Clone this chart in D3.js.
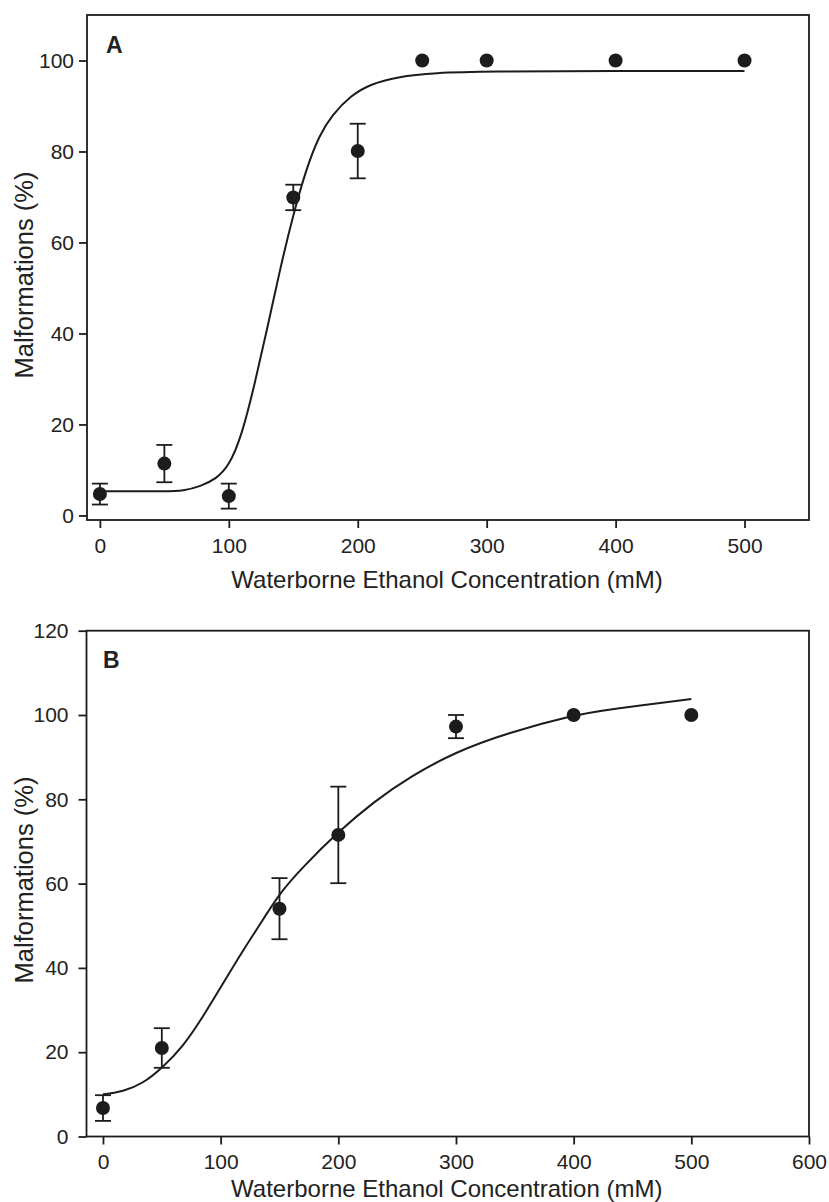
<!DOCTYPE html>
<html>
<head>
<meta charset="utf-8">
<script src="https://cdn.jsdelivr.net/npm/d3@7"></script>
<style>
  html, body { margin: 0; padding: 0; background: #fff; }
  svg { display: block; }
  text { font-family: "Liberation Sans", Arial, Helvetica, sans-serif; fill: #222; }
</style>
</head>
<body>
<svg id="chart" width="829" height="1202"></svg>
<script>
// Panel A: mean malformation rate (%) with SE at each ethanol concentration
const concA = [0, 50, 100, 150, 200, 250, 300, 400, 500];
const meanA = [4.7, 11.4, 4.25, 69.9, 80.1, 100, 100, 100, 100];
const seA   = [2.3, 4.1, 2.75, 2.8, 6.0, 0, 0, 0, 0];

// Panel A: fitted dose-response curve
const fitConcA = [0, 25, 50, 65, 78, 90, 100, 110, 120, 130, 140, 150, 160, 170, 180, 195, 210, 230, 260, 300, 400, 500];
const fitPctA  = [5.3, 5.3, 5.3, 5.4, 6.4, 8.0, 10.8, 17.5, 28.8, 41.3, 54.5, 66.2, 76.1, 83.5, 88.0, 92.4, 94.8, 96.4, 97.3, 97.6, 97.7, 97.7];

// Panel B: mean malformation rate (%) with SE
const concB = [0, 50, 150, 200, 300, 400, 500];
const meanB = [6.75, 21.0, 54.05, 71.55, 97.25, 100, 100];
const seB   = [3.05, 4.7, 7.25, 11.45, 2.75, 0, 0];

// Panel B: fitted dose-response curve
const fitConcB = [0, 17, 34, 50, 68, 85, 102, 119, 136, 150, 170, 200, 230, 261, 300, 343, 400, 431, 500];
const fitPctB  = [10.0, 10.6, 12.6, 16.2, 21.3, 28.4, 36.3, 44.2, 51.4, 57.7, 64.0, 72.3, 79.4, 85.4, 91.3, 95.7, 100.0, 101.4, 103.8];

// Tick values
const xTicksA = [0, 100, 200, 300, 400, 500];
const yTicksA = [0, 20, 40, 60, 80, 100];
const xTicksB = [0, 100, 200, 300, 400, 500, 600];
const yTicksB = [0, 20, 40, 60, 80, 100, 120];

const panelLabels = ["A", "B"];
const xTitle = "Waterborne Ethanol Concentration (mM)";
const yTitle = "Malformations (%)";

const INK = "#1c1c1c";
const svg = d3.select("#chart");

function drawPanel(cfg) {
  const { left, right, top, bottom } = cfg.box;
  const x = d3.scaleLinear().domain(cfg.xDomain).range([left, right]);
  const y = d3.scaleLinear().domain(cfg.yDomain).range([bottom, top]);
  const g = svg.append("g");

  // axes
  const yAxis = d3.axisLeft(y).tickValues(cfg.yTicks).tickSize(8).tickSizeOuter(0)
    .tickPadding(cfg.yPad).tickFormat(d3.format("d"));
  const gy = g.append("g").attr("transform", `translate(${left},0)`).call(yAxis);
  const xAxis = d3.axisBottom(x).tickValues(cfg.xTicks).tickSize(8).tickSizeOuter(0)
    .tickPadding(10).tickFormat(d3.format("d"));
  const gx = g.append("g").attr("transform", `translate(0,${bottom})`).call(xAxis);
  [gx, gy].forEach(a => {
    a.select(".domain").remove();
    a.selectAll(".tick line").attr("stroke", INK).attr("stroke-width", 1.8);
    a.selectAll(".tick text").style("font-size", "21px").attr("fill", "#222");
  });

  // frame
  g.append("rect")
    .attr("x", left).attr("y", top)
    .attr("width", right - left).attr("height", bottom - top)
    .attr("fill", "none").attr("stroke", INK).attr("stroke-width", 1.8);

  // fitted curve (B-spline smoothing through the sampled fit values)
  const line = d3.line().x(d => x(d[0])).y(d => y(d[1])).curve(d3.curveBasis);
  g.append("path")
    .datum(d3.zip(cfg.fitX, cfg.fitY))
    .attr("d", line)
    .attr("fill", "none").attr("stroke", INK).attr("stroke-width", 2);

  // error bars
  const pts = cfg.cx.map((c, i) => ({ c, m: cfg.mean[i], e: cfg.se[i] })).filter(d => d.e > 0);
  const cap = 8;
  const eb = g.append("g").attr("stroke", INK).attr("stroke-width", 1.8);
  pts.forEach(d => {
    const px = x(d.c), y1 = y(d.m + d.e), y0 = y(d.m - d.e);
    eb.append("line").attr("x1", px).attr("x2", px).attr("y1", y1).attr("y2", y0);
    eb.append("line").attr("x1", px - cap).attr("x2", px + cap).attr("y1", y1).attr("y2", y1);
    eb.append("line").attr("x1", px - cap).attr("x2", px + cap).attr("y1", y0).attr("y2", y0);
  });

  // points
  g.append("g").selectAll("circle")
    .data(cfg.cx.map((c, i) => [c, cfg.mean[i]]))
    .join("circle")
    .attr("cx", d => x(d[0])).attr("cy", d => y(d[1]))
    .attr("r", 7).attr("fill", INK);

  // panel letter
  g.append("text")
    .attr("x", cfg.labelPos[0]).attr("y", cfg.labelPos[1])
    .style("font-size", "23px").style("font-weight", "bold")
    .attr("fill", "#111")
    .text(cfg.label);

  // axis titles
  g.append("text")
    .attr("x", (left + right) / 2 - 1).attr("y", cfg.xTitleY)
    .attr("text-anchor", "middle").style("font-size", "24px")
    .text(xTitle);
  g.append("text")
    .attr("transform", `translate(33,${cfg.yTitleC}) rotate(-90)`)
    .attr("text-anchor", "middle").style("font-size", "25.5px")
    .text(yTitle);
}

drawPanel({
  box: { left: 87, right: 809, top: 15, bottom: 520 },
  xDomain: [-10, 550], yDomain: [-1, 110],
  xTicks: xTicksA, yTicks: yTicksA, yPad: 5,
  cx: concA, mean: meanA, se: seA,
  fitX: fitConcA, fitY: fitPctA,
  label: panelLabels[0], labelPos: [106, 53],
  xTitleY: 588, yTitleC: 275
});

drawPanel({
  box: { left: 86.5, right: 809, top: 630.7, bottom: 1136.5 },
  xDomain: [-14, 600], yDomain: [0, 120],
  xTicks: xTicksB, yTicks: yTicksB, yPad: 10,
  cx: concB, mean: meanB, se: seB,
  fitX: fitConcB, fitY: fitPctB,
  label: panelLabels[1], labelPos: [103, 668],
  xTitleY: 1197, yTitleC: 880
});
</script>
</body>
</html>
